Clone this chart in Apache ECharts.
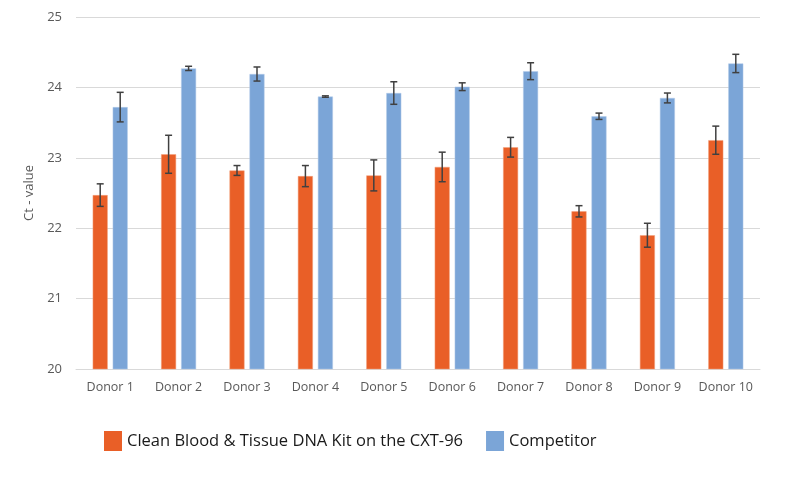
<!DOCTYPE html>
<html>
<head>
<meta charset="utf-8">
<script src="https://cdn.jsdelivr.net/npm/echarts@6/dist/echarts.min.js"></script>
<style>html,body{margin:0;padding:0;background:#fff}#c{width:790px;height:478px}</style>
</head>
<body>
<div id="c"></div>
<script>
var categories = ['Donor 1','Donor 2','Donor 3','Donor 4','Donor 5','Donor 6','Donor 7','Donor 8','Donor 9','Donor 10'];
var seriesNames = ['Clean Blood & Tissue DNA Kit on the CXT-96', 'Competitor'];
var cleanValues = [22.47, 23.05, 22.82, 22.74, 22.75, 22.87, 23.15, 22.24, 21.90, 23.25];
var cleanErrors = [0.16, 0.27, 0.07, 0.15, 0.22, 0.21, 0.14, 0.08, 0.17, 0.20];
var compValues = [23.72, 24.27, 24.19, 23.87, 23.92, 24.01, 24.23, 23.59, 23.85, 24.34];
var compErrors = [0.21, 0.03, 0.10, 0.01, 0.16, 0.055, 0.12, 0.045, 0.07, 0.13];
var yTicks = {min: 20, max: 25, interval: 1};

var chart = echarts.init(document.getElementById('c'));
var BAR_W = 15, BAR_GAP = 5;

function errData(vals, errs) {
  return vals.map(function (v, i) { return [i, v - errs[i], v + errs[i]]; });
}
function errSeries(vals, errs, offset) {
  return {
    type: 'custom',
    silent: true,
    z: 10,
    data: errData(vals, errs),
    encode: {x: 0, y: [1, 2]},
    renderItem: function (params, api) {
      var lo = api.coord([api.value(0), api.value(1)]);
      var hi = api.coord([api.value(0), api.value(2)]);
      var x = lo[0] + offset;
      var cap = 3.5;
      var st = {stroke: '#404040', lineWidth: 1.5};
      return {
        type: 'group',
        children: [
          {type: 'line', shape: {x1: x, y1: lo[1], x2: x, y2: hi[1]}, style: st},
          {type: 'line', shape: {x1: x - cap, y1: lo[1], x2: x + cap, y2: lo[1]}, style: st},
          {type: 'line', shape: {x1: x - cap, y1: hi[1], x2: x + cap, y2: hi[1]}, style: st}
        ]
      };
    }
  };
}

var off = (BAR_W + BAR_GAP) / 2;
chart.setOption({
  animation: false,
  textStyle: {fontFamily: 'Open Sans'},
  grid: {left: 76, right: 30, top: 17, bottom: 109},
  legend: {
    left: 104, top: 431, padding: 0,
    itemWidth: 18, itemHeight: 20, itemGap: 23,
    itemStyle: {borderWidth: 0},
    textStyle: {fontSize: 16.5, color: '#1a1a1a', fontFamily: 'Open Sans', padding: [0, 0, 0, 0]},
    data: seriesNames,
    icon: 'rect'
  },
  xAxis: {
    type: 'category',
    data: categories,
    axisLine: {lineStyle: {color: '#d9d9d9', width: 1}},
    axisTick: {show: false},
    axisLabel: {color: '#595959', fontSize: 12.5, margin: 12, interval: 0}
  },
  yAxis: {
    type: 'value',
    min: yTicks.min, max: yTicks.max, interval: yTicks.interval,
    name: 'Ct - value',
    nameLocation: 'middle',
    nameGap: 33,
    nameTextStyle: {color: '#595959', fontSize: 13},
    axisLine: {show: false},
    axisTick: {show: false},
    axisLabel: {color: '#595959', fontSize: 13, margin: 14},
    splitLine: {lineStyle: {color: '#d9d9d9', width: 1}}
  },
  series: [
    {
      name: seriesNames[0], type: 'bar', data: cleanValues,
      barWidth: BAR_W, barGap: (BAR_GAP / BAR_W * 100) + '%',
      itemStyle: {color: '#E95F27', borderColor: '#f3a07c', borderWidth: 0.5}
    },
    {
      name: seriesNames[1], type: 'bar', data: compValues,
      barWidth: BAR_W,
      itemStyle: {color: '#7BA5D7', borderColor: '#b3cbe8', borderWidth: 0.5}
    },
    errSeries(cleanValues, cleanErrors, -off),
    errSeries(compValues, compErrors, off)
  ]
});
</script>
</body>
</html>
